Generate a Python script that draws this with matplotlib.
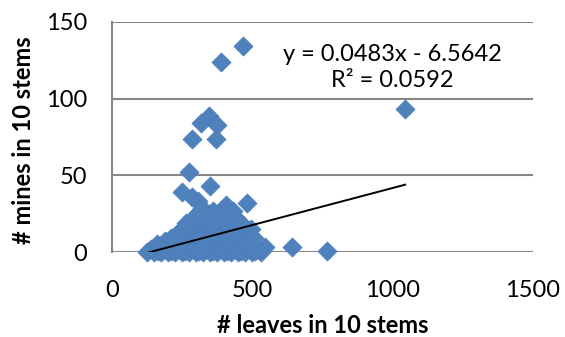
import matplotlib
matplotlib.use("Agg")
from matplotlib import pyplot as plt
import numpy as np

# leaves / mines per 10 stems
leaves = [468, 389, 1045, 346, 317, 375, 286, 371, 275, 350, 250, 407, 482, 286, 307, 321, 643, 768, 546,
          125, 150, 175, 200, 225, 250, 275, 300, 325, 350, 375, 400, 425, 450, 475, 500, 530,
          165, 210, 260, 310, 360, 410, 460, 510,
          140, 190, 240, 290, 340, 390, 440, 490, 520,
          180, 230, 280, 330, 380, 430, 480,
          160, 200, 250, 300, 350, 400, 450, 500,
          190, 230, 270, 320, 370, 420, 470,
          210, 260, 310, 360, 410, 460, 505,
          230, 280, 330, 380, 430, 480,
          240, 300, 350, 400, 450,
          255, 310, 340, 390, 440, 495,
          270, 320, 370, 420, 470,
          265, 300, 350, 400, 455,
          285, 330, 375, 420,
          295, 340, 390, 440,
          305, 350, 410,
          315, 360, 430]
mines = [134, 124, 93, 89, 84, 83, 74, 74, 52, 43, 39, 31, 32, 36, 33, 29, 3, 1, 3,
         0, 0, 0, 0, 0, 0, 0, 0, 0, 0, 0, 0, 0, 0, 0, 0, 0,
         1, 1, 1, 1, 1, 1, 1, 1,
         2, 2, 2, 2, 2, 2, 2, 2, 2,
         3, 3, 3, 3, 3, 3, 3,
         5, 5, 5, 5, 5, 5, 5, 5,
         7, 7, 7, 7, 7, 7, 7,
         9, 9, 9, 9, 9, 9, 9,
         11, 11, 11, 11, 11, 11,
         13, 13, 13, 13, 13,
         15, 15, 15, 15, 15, 15,
         17, 17, 17, 17, 17,
         19, 19, 19, 19, 19,
         21, 21, 21, 21,
         23, 23, 23, 23,
         25, 25, 25,
         27, 27, 27]

# linear trendline shown on the chart
slope = 0.0483
intercept = -6.5642
r2 = 0.0592

xticks = [0, 500, 1000, 1500]
yticks = [0, 50, 100, 150]

plt.rcParams['font.family'] = ['Lato', 'DejaVu Sans']

fig = plt.figure(figsize=(5.65, 3.37), dpi=100)
ax = fig.add_axes([0.198, 0.252, 0.745, 0.683])

grey = '#868686'
ax.scatter(leaves, mines, marker='D', s=95, color='#4F81BD', edgecolors='#4A7EBB',
           linewidths=0.5, zorder=3, clip_on=False)

xl = np.array([min(leaves), max(leaves)])
ax.plot(xl, slope*xl + intercept, 'k-', lw=1.4, zorder=4)

ax.set_xlim(0, 1500); ax.set_ylim(0, 150)
ax.set_xticks(xticks); ax.set_yticks(yticks)
ax.yaxis.grid(True, color=grey, lw=1.5, zorder=0)
ax.set_axisbelow(True)
for s in ['top', 'right', 'bottom']:
    ax.spines[s].set_visible(False)
ax.spines['left'].set_color(grey); ax.spines['left'].set_linewidth(1.5)
ax.tick_params(axis='both', length=0, labelsize=17, colors='black')
ax.tick_params(axis='y', pad=18)
ax.tick_params(axis='x', pad=20)

ax.set_xlabel('# leaves in 10 stems', fontsize=17, fontweight='bold', va='center')
ax.xaxis.set_label_coords(0.5, -0.317)
ax.set_ylabel('# mines in 10 stems', fontsize=17, fontweight='bold', va='center')
ax.yaxis.set_label_coords(-0.21, 0.487)

ax.text(0.667, 0.802, 'y = {:.4f}x - {:.4f}\nR² = {:.4f}'.format(slope, -intercept, r2),
        transform=ax.transAxes, ha='center', va='center', fontsize=17, linespacing=1.3)

fig.savefig('out.png', dpi=100)
